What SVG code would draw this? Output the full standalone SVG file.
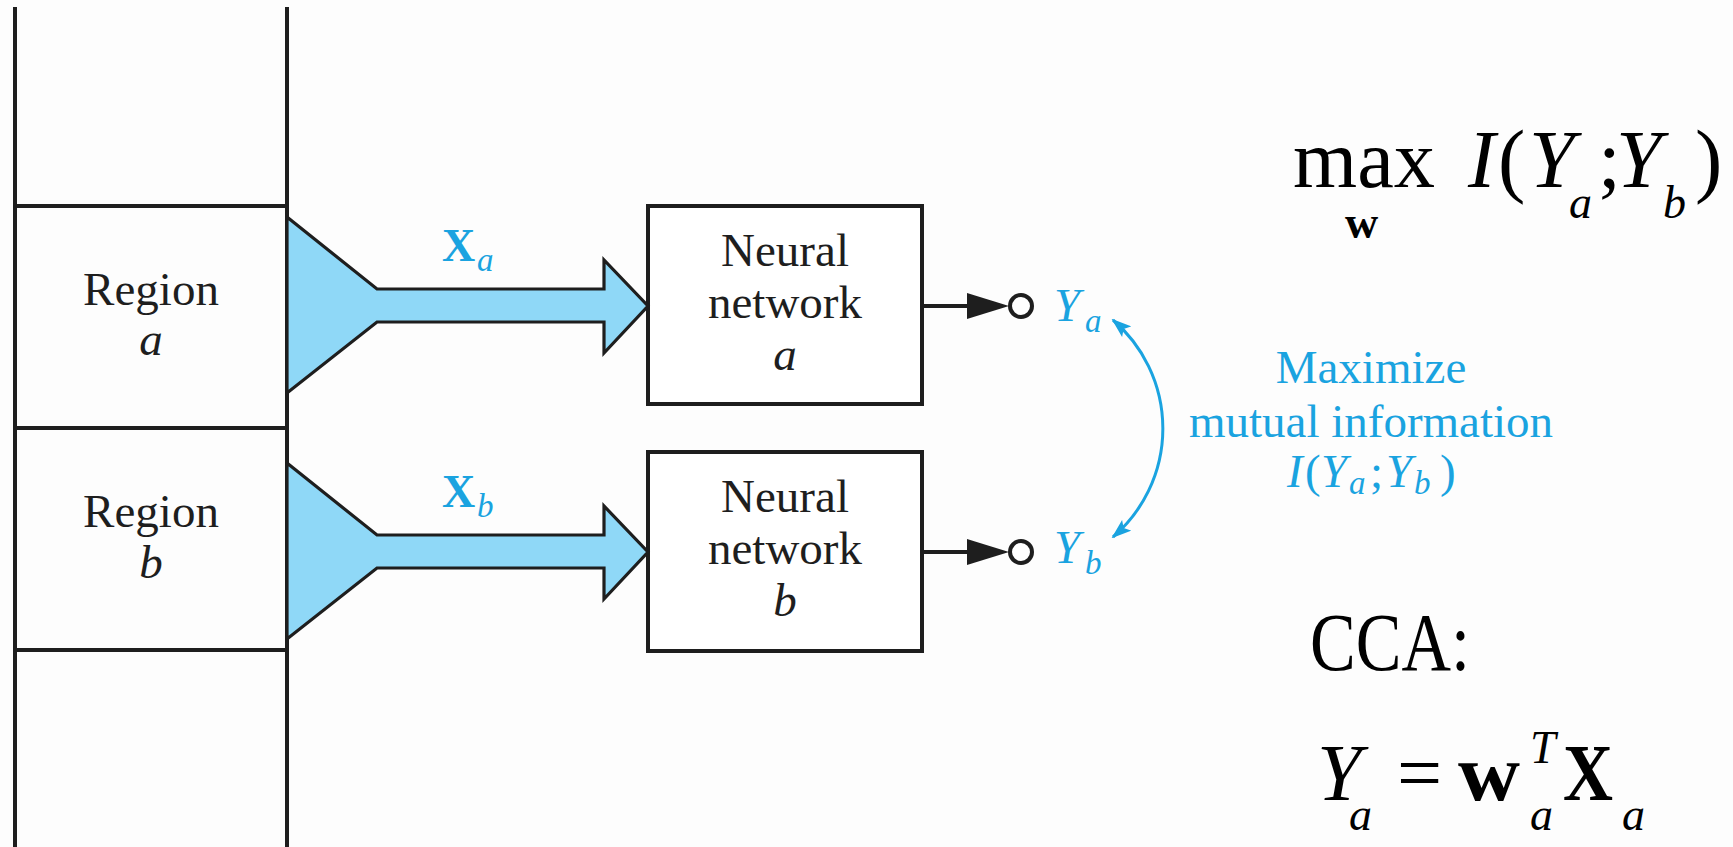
<svg xmlns="http://www.w3.org/2000/svg" width="1733" height="847" viewBox="0 0 1733 847">
<style>
.ln{stroke:#1e1e1e;stroke-width:4;fill:none}
.box{stroke:#1e1e1e;stroke-width:4;fill:#fff}
.fun{stroke:#1e1e1e;stroke-width:3.2;fill:#8fd8f7;stroke-linejoin:miter}
.t{font-family:"Liberation Serif","Times New Roman",serif;fill:#1e1e1e}
.bl{font-family:"Liberation Serif","Times New Roman",serif;fill:#1aa3e0}
.it{font-style:italic}
.bd{font-weight:bold}
.m{font-family:"Liberation Serif","Times New Roman",serif;fill:#000}
</style>
<defs>
<marker id="bh" viewBox="0 0 20 14" refX="18" refY="7" markerWidth="20" markerHeight="14" markerUnits="userSpaceOnUse" orient="auto-start-reverse">
<path d="M0,0 L20,7 L0,14 L4,7 z" fill="#1aa3e0"/>
</marker>
</defs>
<rect width="1733" height="847" fill="#fdfdfd"/>

<g id="frame">
<line class="ln" x1="15" y1="7" x2="15" y2="847"/>
<line class="ln" x1="287" y1="7" x2="287" y2="847"/>
<line class="ln" x1="15" y1="206" x2="287" y2="206"/>
<line class="ln" x1="15" y1="428" x2="287" y2="428"/>
<line class="ln" x1="15" y1="650" x2="287" y2="650"/>
</g>

<g id="region-a">
<text class="t" x="151" y="305" font-size="47" text-anchor="middle">Region</text>
<text class="t it" x="151" y="355" font-size="47" text-anchor="middle">a</text>
</g>
<g id="region-b">
<text class="t" x="151" y="527" font-size="47" text-anchor="middle">Region</text>
<text class="t it" x="151" y="578" font-size="47" text-anchor="middle">b</text>
</g>

<g id="nn-a">
<rect class="box" x="648" y="206" width="274" height="198"/>
<text class="t" x="785" y="266" font-size="47" text-anchor="middle">Neural</text>
<text class="t" x="785" y="318" font-size="47" text-anchor="middle">network</text>
<text class="t it" x="785" y="370" font-size="47" text-anchor="middle">a</text>
</g>
<g id="nn-b">
<rect class="box" x="648" y="452" width="274" height="199"/>
<text class="t" x="785" y="512" font-size="47" text-anchor="middle">Neural</text>
<text class="t" x="785" y="564" font-size="47" text-anchor="middle">network</text>
<text class="t it" x="785" y="616" font-size="47" text-anchor="middle">b</text>
</g>

<g id="connectors">
<polygon class="fun" points="287,217 377,289 604,289 604,260 648,306 604,353 604,322 377,322 287,393"/>
<polygon class="fun" points="287,463 377,535 604,535 604,506 648,552 604,599 604,568 377,568 287,639"/>
<line class="ln" x1="922" y1="306" x2="972" y2="306"/>
<polygon points="967,293 1009,306 967,319" fill="#1e1e1e"/>
<circle cx="1021" cy="306" r="11" fill="#fff" stroke="#1e1e1e" stroke-width="4"/>
<line class="ln" x1="922" y1="552" x2="972" y2="552"/>
<polygon points="967,539 1009,552 967,565" fill="#1e1e1e"/>
<circle cx="1021" cy="552" r="11" fill="#fff" stroke="#1e1e1e" stroke-width="4"/>
<path d="M1113,320 A143,143 0 0 1 1113,537" fill="none" stroke="#1aa3e0" stroke-width="3" marker-start="url(#bh)" marker-end="url(#bh)"/>
</g>

<g id="label-xa">
<text class="bl bd" x="442" y="261" font-size="46">X</text>
<text class="bl it" x="477" y="271" font-size="33">a</text>
</g>
<g id="label-xb">
<text class="bl bd" x="442" y="507" font-size="46">X</text>
<text class="bl it" x="477" y="517" font-size="33">b</text>
</g>
<g id="label-ya">
<text class="bl it" x="1054" y="321" font-size="47">Y</text>
<text class="bl it" x="1085" y="332" font-size="33">a</text>
</g>
<g id="label-yb">
<text class="bl it" x="1054" y="563" font-size="47">Y</text>
<text class="bl it" x="1085" y="574" font-size="33">b</text>
</g>

<g id="maximize-label">
<text class="bl" x="1371" y="383" font-size="47" text-anchor="middle">Maximize</text>
<text class="bl" x="1371" y="437" font-size="47" text-anchor="middle">mutual information</text>
<text class="bl it" x="1287" y="487" font-size="47">I</text>
<text class="bl" x="1305" y="487" font-size="47">(</text>
<text class="bl it" x="1321" y="487" font-size="47">Y</text>
<text class="bl it" x="1349" y="494" font-size="33">a</text>
<text class="bl" x="1370" y="487" font-size="47">;</text>
<text class="bl it" x="1386" y="487" font-size="47">Y</text>
<text class="bl it" x="1414" y="494" font-size="33">b</text>
<text class="bl" x="1440" y="487" font-size="47">)</text>
</g>

<g id="formula-max">
<text class="m" x="1293" y="187" font-size="82" textLength="142" lengthAdjust="spacingAndGlyphs">max</text>
<text class="m bd" x="1345" y="238" font-size="46">w</text>
<text class="m it" x="1468" y="187" font-size="82">I</text>
<text class="m" x="1498" y="187" font-size="82">(</text>
<text class="m it" x="1529" y="187" font-size="82">Y</text>
<text class="m it" x="1569" y="218" font-size="46">a</text>
<text class="m" x="1598" y="187" font-size="82">;</text>
<text class="m it" x="1616" y="187" font-size="82">Y</text>
<text class="m it" x="1663" y="218" font-size="46">b</text>
<text class="m" x="1695" y="187" font-size="82">)</text>
</g>

<g id="formula-cca">
<text class="m" x="1310" y="670" font-size="82" textLength="160" lengthAdjust="spacingAndGlyphs">CCA:</text>
<text class="m it" x="1317" y="800" font-size="80">Y</text>
<text class="m it" x="1349" y="830" font-size="46">a</text>
<text class="m" x="1397" y="800" font-size="80">=</text>
<text class="m bd" x="1458" y="800" font-size="80" textLength="62" lengthAdjust="spacingAndGlyphs">w</text>
<text class="m it" x="1530" y="763" font-size="46">T</text>
<text class="m it" x="1530" y="830" font-size="46">a</text>
<text class="m bd" x="1563" y="800" font-size="80" textLength="50" lengthAdjust="spacingAndGlyphs">X</text>
<text class="m it" x="1622" y="830" font-size="46">a</text>
</g>
</svg>
